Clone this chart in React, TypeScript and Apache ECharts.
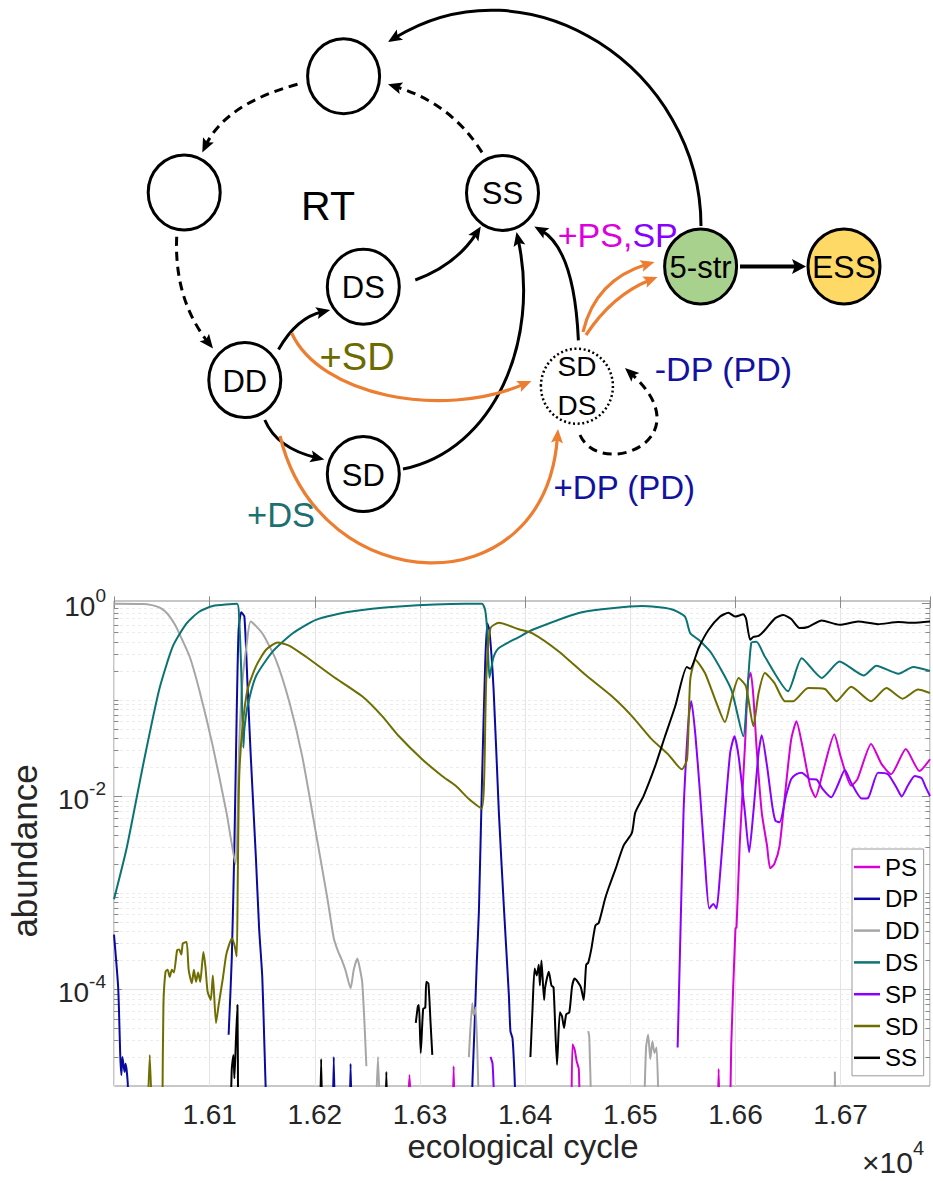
import React, { useEffect, useRef } from 'react';
import * as echarts from 'echarts';

// ---------- chart data: [ecological cycle, abundance]; null = break in line ----------
type Pt = [number, number] | null;

const SERIES_NAMES = ['PS', 'DP', 'DD', 'DS', 'SP', 'SD', 'SS'];
const SERIES_COLORS = ['#d600d6', '#0a0aa0', '#a6a6a6', '#0b7373', '#8a00ff', '#6e6e00', '#000000'];

const PS: Pt[] = [
  [16288, 5e-6], [16290, 1.3e-5], [16292, 5e-6], null,
  [16331, 5e-6], [16332, 1.6e-5], [16333, 5e-6], null,
  [16444, 5e-6], [16445, 2.7e-5], [16447, 2.4e-5], [16449, 1.8e-5], [16451, 1.5e-5], [16452, 5e-6], null,
  [16583, 5e-6], [16584, 1.5e-5], [16585, 5e-6], null,
  [16595, 5e-6], [16596, 2.7e-5], [16600, 4.3e-4], [16601, 4.4e-4], [16604, 3.1e-3], [16609, 0.033], [16612, 0.16],
  [16614.5, 0.19], [16617, 0.11], [16620, 0.033], [16625, 6.8e-3], [16630, 3.1e-3], [16633, 1.8e-3],
  [16637, 2.0e-3], [16642, 3.1e-3], [16648, 0.0129], [16653, 0.039], [16658, 0.06], [16663, 0.036],
  [16671, 0.0129], [16676, 9.8e-3], [16683, 0.0176], [16694, 0.044], [16700, 0.026], [16710, 0.0129],
  [16716, 0.0151], [16729, 0.035], [16739, 0.0216], [16748, 0.017], [16762, 0.031], [16775, 0.0183],
  [16785, 0.0243],
];

const DP: Pt[] = [
  [16009, 3.7e-4], [16013, 1.03e-4], [16015, 2e-5], [16016, 1.3e-5], [16017, 2e-5], [16019, 1.4e-5],
  [16020, 1.7e-5], [16022, 1.1e-5], [16023, 5e-6], null,
  [16118, 3.4e-5], [16121, 2.1e-4], [16123.5, 3.1e-3], [16125.7, 0.074], [16127.5, 0.53], [16130, 0.81],
  [16133, 0.73], [16136, 0.142], [16139, 0.027], [16144, 2.25e-3], [16147, 4.3e-4], [16150, 1.35e-4],
  [16152, 2.7e-5], [16154, 5e-6], null,
  [16217, 5e-6], [16218, 2e-5], [16219, 5e-6], null,
  [16233, 5e-6], [16234, 1.7e-5], [16235, 5e-6], null,
  [16349, 5e-6], [16350, 1.2e-5], [16352, 4.5e-5], [16354, 1.9e-4], [16356, 6.4e-4], [16359, 0.015],
  [16362, 0.24], [16364, 0.62], [16366, 0.53], [16370, 0.128], [16375, 6.8e-3], [16380, 6.4e-4],
  [16384.5, 8.8e-5], [16386, 3.7e-5], [16388, 3.1e-5], [16390, 1.2e-5], [16391, 5e-6],
];

const DD: Pt[] = [
  [16009, 0.99], [16036, 0.985], [16045, 0.96], [16052, 0.91], [16057, 0.84], [16062, 0.73], [16067, 0.6],
  [16071, 0.49], [16081, 0.28], [16090, 0.128], [16103, 0.033], [16116, 6.8e-3], [16124.5, 2.0e-3],
  [16128, 0.033], [16131, 0.15], [16135, 0.36], [16139, 0.65], [16150, 0.49], [16163, 0.26], [16176, 0.093],
  [16188, 0.026], [16201, 4.2e-3], [16212, 8.7e-4], [16218, 3.4e-4], [16222, 2.5e-4], [16225, 2.1e-4],
  [16229, 1.6e-4], [16234, 1.03e-4], [16237, 1.6e-4], [16240.5, 2.1e-4], [16243, 1.6e-4], [16245, 1.2e-4],
  [16247, 5e-5], [16249, 1.6e-5], null,
  [16258, 5e-6], [16260, 2e-5], [16262, 5e-6], null,
  [16346.5, 2e-5], [16349.7, 7.2e-5], [16351, 5.4e-5], [16353, 6.5e-5], [16356, 5e-6], null,
  [16460, 3.7e-5], [16461, 3.2e-5], [16463, 5e-6], null,
  [16513, 5e-6], [16515, 2.5e-5], [16517, 3.4e-5], [16519, 1.9e-5], [16521, 2.9e-5], [16523, 2.2e-5],
  [16525, 2.5e-5], [16527, 5e-6], null,
  [16694, 5e-6], [16694.5, 1.4e-5], [16695, 5e-6],
];

const DS: Pt[] = [
  [16009, 8.6e-4], [16021, 2.9e-3], [16036.5, 0.0207], [16052, 0.128], [16065, 0.36], [16078, 0.62],
  [16090, 0.82], [16103, 0.94], [16126, 0.99], [16128, 0.7], [16130, 0.2], [16132, 0.032], [16133, 0.05],
  [16136, 0.086], [16144, 0.176], [16160, 0.318], [16179, 0.49], [16201, 0.676], [16233, 0.82],
  [16280, 0.93], [16343, 0.99], [16359, 0.99], [16362, 0.85], [16364, 0.5], [16366, 0.17], [16368, 0.22],
  [16370, 0.28], [16375, 0.345], [16394, 0.448], [16407, 0.533], [16454, 0.81], [16511, 0.94],
  [16539, 0.87], [16552, 0.73], [16557, 0.49], [16565, 0.42], [16577, 0.306], [16596, 0.128],
  [16607.5, 0.042], [16611, 0.109], [16615, 0.388], [16620, 0.4], [16628, 0.28], [16650, 0.123],
  [16663, 0.27], [16682, 0.169], [16699, 0.25], [16722, 0.179], [16734, 0.226], [16755, 0.187],
  [16769, 0.22], [16785, 0.2],
];

const SP: Pt[] = [
  [16367, 2e-5], [16369, 1.7e-5], [16371, 5e-6], null,
  [16545, 2.5e-5], [16547.4, 2.9e-4], [16550.6, 6.8e-3], [16553.7, 0.033], [16556, 0.074], [16558, 0.097],
  [16562, 0.042], [16566.5, 0.0101], [16571, 2.1e-3], [16575, 6.9e-4], [16579, 7.7e-4], [16582, 6.9e-4],
  [16585, 1.4e-3], [16590, 6.8e-3], [16595, 0.0284], [16599, 0.042], [16603, 0.026], [16609, 6.8e-3],
  [16613, 2.64e-3], [16617, 6.8e-3], [16622, 0.0284], [16625, 0.043], [16630, 0.0207], [16635, 8e-3],
  [16638, 5.6e-3], [16642, 5.4e-3], [16648, 0.0101], [16653, 0.0151], [16658, 0.017], [16663, 0.0176],
  [16671, 0.0151], [16677, 0.015], [16683, 0.0119], [16691, 9.8e-3], [16697, 0.0129], [16704, 0.0188],
  [16710, 0.0139], [16720, 9.5e-3], [16726, 9.6e-3], [16735.6, 0.0176], [16745, 0.017], [16754, 0.0119],
  [16758, 0.01], [16764, 0.013], [16770.5, 0.0163], [16777, 0.0155], [16781, 0.0124], [16785, 0.0101],
];

const SD: Pt[] = [
  [16041, 5e-6], [16043, 2.1e-5], [16045, 5e-6], null,
  [16055, 5e-6], [16056, 6.9e-5], [16058, 1.53e-4], [16060, 1.6e-4], [16062, 1.35e-4], [16064, 1.6e-4],
  [16066, 1.5e-4], [16069, 2.55e-4], [16071, 2.6e-4], [16073, 2.3e-4], [16074.5, 3e-4], [16078, 3.1e-4],
  [16080, 1.6e-4], [16083, 1.16e-4], [16085, 1.6e-4], [16087, 1.2e-4], [16089, 1.5e-4], [16091, 1.2e-4],
  [16094, 2.45e-4], [16096, 1.7e-4], [16098, 9.5e-5], [16101, 7.8e-5], [16103, 1.4e-4], [16106, 4.5e-5],
  [16108.5, 6.9e-5], [16112.5, 1.3e-4], [16115.6, 2.26e-4], [16118, 2.8e-4], [16121, 3.4e-4],
  [16123.5, 2.9e-4], [16125.7, 2.2e-4], [16126.7, 1.4e-3], [16128, 0.0151], [16131, 0.0495],
  [16136, 0.128], [16144, 0.223], [16153.6, 0.331], [16164.6, 0.394], [16176, 0.364], [16191.6, 0.28],
  [16217, 0.176], [16245, 0.109], [16264, 0.068], [16280, 0.042], [16302, 0.0243], [16321, 0.0163],
  [16334, 0.0129], [16346.5, 9.4e-3], [16358.6, 7.5e-3], [16361, 0.0151], [16363, 0.162], [16367, 0.555],
  [16375, 0.63], [16394, 0.54], [16407, 0.49], [16432, 0.318], [16457, 0.183], [16482.5, 0.109],
  [16501.5, 0.068], [16520.5, 0.039], [16536, 0.0273], [16549, 0.0191], [16554, 0.0243], [16557, 0.162],
  [16562, 0.26], [16571, 0.19], [16580.7, 0.101], [16590, 0.059], [16596, 0.101], [16603, 0.169],
  [16610, 0.138], [16617, 0.0535], [16622, 0.118], [16628, 0.19], [16637, 0.15], [16647, 0.097],
  [16655, 0.097], [16669, 0.133], [16685, 0.13], [16696, 0.097], [16710, 0.137], [16729, 0.097],
  [16743.5, 0.133], [16759, 0.103], [16773.6, 0.128], [16785, 0.118],
];

const SS: Pt[] = [
  [16120, 5e-6], [16121, 1.5e-5], [16122.6, 2.1e-5], [16123.5, 1.2e-5], [16125, 3.1e-5], [16126.4, 6.9e-5],
  [16127, 5e-6], null,
  [16205, 5e-6], [16206, 1.9e-5], [16207, 5e-6], null,
  [16267, 5e-6], [16268, 1.4e-5], [16269, 5e-6], null,
  [16296, 4.5e-5], [16298, 6.7e-5], [16299, 6.9e-5], [16300.7, 2.2e-5], [16303, 6.3e-5], [16305, 6.5e-5],
  [16306, 1.2e-4], [16308, 1.15e-4], [16310, 4.6e-5], [16311.7, 2.1e-5], null,
  [16405, 2e-5], [16407, 6.3e-5], [16409, 1.65e-4], [16411, 1.4e-4], [16413, 1.8e-4], [16414, 1.1e-4],
  [16415.5, 2e-4], [16418, 7.8e-5], [16419, 1.05e-4], [16422.5, 1.53e-4], [16425, 1.1e-4], [16427, 1.05e-4],
  [16430.3, 1.66e-5], [16433, 5.8e-5], [16435, 5.3e-5], [16437, 4e-5], [16439, 5.5e-5], [16442, 5.8e-5],
  [16444.6, 1.07e-4], [16447, 1.3e-4], [16450, 1.2e-4], [16453, 1.05e-4], [16455.7, 7.8e-5],
  [16458, 1.8e-4], [16460, 1.9e-4], [16463, 2.65e-4], [16466.8, 4.6e-4], [16470, 4.9e-4], [16476, 8.7e-4],
  [16479, 1.1e-3], [16486, 1.78e-3], [16493.6, 3.1e-3], [16501.5, 4.2e-3], [16504.7, 6.8e-3],
  [16512.6, 0.0101], [16523.7, 0.0207], [16533, 0.042], [16542.7, 0.086], [16553.7, 0.22], [16557, 0.21],
  [16565, 0.345], [16574.3, 0.53], [16585.4, 0.73], [16593.3, 0.8], [16599.6, 0.73], [16607.5, 0.77],
  [16610, 0.7], [16614, 0.42], [16617, 0.45], [16622, 0.46], [16628, 0.53], [16637.6, 0.7],
  [16645.5, 0.76], [16653, 0.69], [16661, 0.555], [16669, 0.57], [16682, 0.665], [16699, 0.6],
  [16716.6, 0.65], [16735.6, 0.61], [16755, 0.64], [16769, 0.63], [16785, 0.65],
];

const SERIES_DATA: Pt[][] = [PS, DP, DD, DS, SP, SD, SS];

// axes
const X_MIN = 16009;
const X_MAX = 16785;
const X_STEP = 100;
const Y_MIN_EXP = -5;
const Y_MAX_EXP = 0.025;
const Y_LABEL_EXPS = [-4, -2, 0];
const Y_MINOR_DECADES = [-5, -4, -3, -2, -1];
const Y_MINOR_MULT = [2, 3, 4, 5, 6, 7, 8, 9];

const FONT = '"Liberation Sans", Arial, Helvetica, sans-serif';

// ---------- diagram helpers ----------
type P2 = [number, number];

function arrowHead(tip: P2, from: P2, color: string, L = 14, W = 12) {
  const dx = tip[0] - from[0];
  const dy = tip[1] - from[1];
  const len = Math.hypot(dx, dy) || 1;
  const ux = dx / len, uy = dy / len;
  const nx = -uy, ny = ux;
  const bx = tip[0] - ux * L, by = tip[1] - uy * L;
  return {
    type: 'polygon',
    z: 20,
    shape: {
      points: [
        [tip[0], tip[1]],
        [bx + (nx * W) / 2, by + (ny * W) / 2],
        [bx + ux * L * 0.2, by + uy * L * 0.2],
        [bx - (nx * W) / 2, by - (ny * W) / 2],
      ],
    },
    style: { fill: color, stroke: null },
  };
}

function curveArrow(p0: P2, c1: P2, c2: P2 | null, tip: P2, color: string, lw = 3, dash?: number[]) {
  const from = c2 || c1;
  const dx = tip[0] - from[0];
  const dy = tip[1] - from[1];
  const len = Math.hypot(dx, dy) || 1;
  const back = 8;
  const end: P2 = [tip[0] - (dx / len) * back, tip[1] - (dy / len) * back];
  const shape: any = { x1: p0[0], y1: p0[1], x2: end[0], y2: end[1], cpx1: c1[0], cpy1: c1[1] };
  if (c2) {
    shape.cpx2 = c2[0];
    shape.cpy2 = c2[1];
  }
  return [
    {
      type: 'bezierCurve',
      z: 19,
      shape,
      style: { stroke: color, lineWidth: lw, fill: null, lineDash: dash || null },
    },
    arrowHead(tip, from, color),
  ];
}

function node(cx: number, cy: number, fill = '#ffffff', dotted = false) {
  return {
    type: 'ellipse',
    z: 18,
    shape: { cx, cy, rx: 36, ry: 37.5 },
    style: dotted
      ? { fill, stroke: '#000', lineWidth: 2.5, lineDash: [2, 2.6] }
      : { fill, stroke: '#000', lineWidth: 3 },
  };
}

function label(x: number, y: number, text: string, size: number, color = '#000', align = 'center', glow = false) {
  const style: any = {
    text,
    fill: color,
    fontSize: size,
    fontFamily: FONT,
    align,
    textAlign: align,
    verticalAlign: 'middle',
    textVerticalAlign: 'middle',
  };
  if (glow) {
    style.shadowBlur = 3;
    style.shadowColor = color;
  }
  return { type: 'text', z: 21, x, y, style };
}

const BLACK = '#000000';
const ORANGE = '#ed7d31';
const DASH = [9, 6];

function buildDiagram() {
  const els: any[] = [];
  // arrows (under nodes)
  els.push(...curveArrow([701, 226], [701, 70], [530, -45], [388, 42], BLACK, 3));
  els.push(...curveArrow([297.5, 84.3], [226, 103.6], null, [202.3, 152.4], BLACK, 3, DASH));
  els.push(...curveArrow([482, 152.4], [451.6, 103.6], null, [388, 84.3], BLACK, 3, DASH));
  els.push(...curveArrow([176.7, 236.8], [174.1, 299.4], null, [213, 348.5], BLACK, 3, DASH));
  els.push(...curveArrow([278.5, 349.6], [296.6, 317.6], null, [330.2, 310], BLACK, 3));
  els.push(...curveArrow([415.3, 280], [456.4, 264.8], null, [480.8, 226.4], BLACK, 3));
  els.push(...curveArrow([403, 469], [495, 450], [540, 340], [516.5, 232], BLACK, 3));
  els.push(...curveArrow([264.8, 420], [276.7, 448.3], null, [324.3, 459.5], BLACK, 3));
  els.push(...curveArrow([578.4, 340.4], [574.3, 249.4], null, [534.3, 226.4], BLACK, 3));
  els.push(...curveArrow([583, 332], [595.3, 280], null, [654.5, 262], ORANGE, 3.2));
  els.push(...curveArrow([586, 335], [612.3, 295], null, [657.5, 277], ORANGE, 3.2));
  els.push(...curveArrow([291.6, 333], [320, 395], [440, 420], [531.4, 381], ORANGE, 3.2));
  els.push(...curveArrow([280, 436], [320, 600], [545, 610], [558, 429], ORANGE, 3.2));
  els.push(...curveArrow([580, 435], [600, 480], [705, 440], [625, 368], BLACK, 3, DASH));
  els.push({
    type: 'line',
    z: 19,
    shape: { x1: 740, y1: 266.4, x2: 795, y2: 266.4 },
    style: { stroke: BLACK, lineWidth: 4 },
  });
  els.push(arrowHead([806, 266.4], [740, 266.4], BLACK, 14, 15));

  // nodes
  els.push(node(343.6, 76.2));
  els.push(node(184.2, 192.4));
  els.push(node(502.5, 192.9));
  els.push(node(363.3, 286.7));
  els.push(node(244.8, 380.1));
  els.push(node(363.3, 474.1));
  els.push(node(576.9, 386.2, '#ffffff', true));
  els.push(node(700.6, 266.4, '#a9d18e'));
  els.push(node(844, 266.4, '#ffd966'));

  // texts
  els.push(label(328, 206, 'RT', 41));
  els.push(label(502.5, 193, 'SS', 31));
  els.push(label(363.3, 287, 'DS', 31));
  els.push(label(244.8, 381, 'DD', 31));
  els.push(label(363.3, 475, 'SD', 31));
  els.push(label(577, 366, 'SD', 28));
  els.push(label(577, 405, 'DS', 28));
  els.push(label(700.6, 267, '5-str', 31));
  els.push(label(844, 267, 'ESS', 32));
  els.push(label(557.7, 235, '+PS,', 34, '#dd00dd', 'left'));
  els.push(label(632.4, 235, 'SP', 34, '#8800ff', 'left'));
  els.push(label(319.6, 357, '+SD', 38, '#6b6b00', 'left', true));
  els.push(label(654.8, 369, '-DP (PD)', 34, '#12129e', 'left', true));
  els.push(label(553.6, 487, '+DP (PD)', 33, '#12129e', 'left', true));
  els.push(label(247, 515, '+DS', 34.5, '#1c7070', 'left', true));

  // axis names for the chart
  els.push({
    type: 'text',
    z: 21,
    x: 24.5,
    y: 851,
    rotation: Math.PI / 2,
    style: {
      text: 'abundance', fill: '#262626', fontSize: 35, fontFamily: FONT,
      align: 'center', textAlign: 'center', verticalAlign: 'middle', textVerticalAlign: 'middle',
    },
  });
  els.push(label(523, 1146, 'ecological cycle', 33, '#262626'));
  els.push(label(862, 1162, '\u00d710', 30, '#262626', 'left'));
  els.push(label(913, 1148, '4', 20, '#262626', 'left'));
  return els;
}

function toSeriesData(pts: Pt[]) {
  const out: any[] = [];
  let lastX = X_MIN;
  for (const p of pts) {
    if (p === null) {
      out.push([lastX, '-']);
    } else {
      lastX = p[0];
      out.push([p[0], Math.log10(p[1])]);
    }
  }
  return out;
}

function buildTicks() {
  const ticks: any[] = [];
  for (const e of Y_LABEL_EXPS) ticks.push([X_MIN, e, 1]);
  for (const d of Y_MINOR_DECADES) {
    if (!Y_LABEL_EXPS.includes(d) && d > Y_MIN_EXP) ticks.push([X_MIN, d, 0]);
    for (const k of Y_MINOR_MULT) {
      const v = d + Math.log10(k);
      if (v < Y_MAX_EXP) ticks.push([X_MIN, v, 0]);
    }
  }
  return ticks;
}

export default function App() {
  const ref = useRef<HTMLDivElement>(null);
  useEffect(() => {
    if (!ref.current) return;
    const chart = echarts.init(ref.current, undefined, { renderer: 'svg' });
    const lineSeries = SERIES_NAMES.map((name, i) => ({
      name,
      type: 'line',
      data: toSeriesData(SERIES_DATA[i]),
      symbol: 'none',
      showSymbol: false,
      connectNulls: false,
      smooth: 0.2,
      clip: true,
      silent: true,
      z: 3,
      lineStyle: { color: SERIES_COLORS[i], width: 2 },
      itemStyle: { color: SERIES_COLORS[i] },
      emphasis: { disabled: true },
    }));
    const tickSeries = {
      name: '_grid',
      type: 'custom',
      silent: true,
      z: 1,
      clip: false,
      data: buildTicks(),
      encode: { x: 0, y: 1 },
      renderItem: (params: any, api: any) => {
        const v = api.value(1);
        const major = api.value(2) === 1;
        const p = api.coord([X_MIN, v]);
        const cs = params.coordSys;
        const xl = cs.x;
        const xr = cs.x + cs.width;
        const y = Math.round(p[1]) + 0.5;
        const len = major ? 8 : 4.5;
        const children: any[] = [];
        if (Math.abs(v) > 1e-6) {
          children.push({
            type: 'line',
            shape: { x1: xl, y1: y, x2: xr, y2: y },
            style: { stroke: major ? '#e2e2e2' : '#ececec', lineWidth: 1, lineDash: major ? null : [3, 3] },
          });
        }
        children.push({ type: 'line', shape: { x1: xl, y1: y, x2: xl + len, y2: y }, style: { stroke: '#8a8a8a', lineWidth: 1 } });
        children.push({ type: 'line', shape: { x1: xr - len, y1: y, x2: xr, y2: y }, style: { stroke: '#8a8a8a', lineWidth: 1 } });
        return { type: 'group', children };
      },
    };
    const xCommon = {
      type: 'value',
      min: X_MIN,
      max: X_MAX,
      splitNumber: 8,
      minInterval: X_STEP,
      maxInterval: X_STEP,
    };
    chart.setOption({
      animation: false,
      backgroundColor: '#ffffff',
      textStyle: { fontFamily: FONT },
      grid: {
        left: 114, top: 601, width: 818, height: 485,
        show: true, borderColor: '#8f8f8f', borderWidth: 1, backgroundColor: 'transparent',
        containLabel: false,
      },
      xAxis: [
        {
          ...xCommon,
          position: 'bottom',
          axisLine: { show: false },
          axisTick: { show: true, inside: true, length: 7, lineStyle: { color: '#8a8a8a' } },
          splitLine: { show: true, lineStyle: { color: '#e4e4e4', width: 1 } },
          axisLabel: {
            fontSize: 28, color: '#262626', margin: 14, fontFamily: FONT,
            formatter: (v: number) => (Math.abs(v / X_STEP - Math.round(v / X_STEP)) < 1e-6 ? (v / 1e4).toFixed(2) : ''),
          },
        },
        {
          ...xCommon,
          position: 'top',
          axisLine: { show: false },
          axisTick: { show: true, inside: true, length: 7, lineStyle: { color: '#8a8a8a' } },
          splitLine: { show: false },
          axisLabel: { show: false },
        },
      ],
      yAxis: {
        type: 'value',
        min: Y_MIN_EXP,
        max: Y_MAX_EXP,
        interval: 1,
        axisLine: { show: false },
        axisTick: { show: false },
        splitLine: { show: false },
        axisLabel: {
          margin: 8,
          formatter: (v: number) => {
            const r = Math.round(v);
            if (Math.abs(v - r) > 1e-6 || !Y_LABEL_EXPS.includes(r)) return '';
            return `{b|10}{s|${r}}`;
          },
          rich: {
            b: { fontSize: 28, color: '#262626', fontFamily: FONT, lineHeight: 34, verticalAlign: 'bottom' },
            s: { fontSize: 19, color: '#262626', fontFamily: FONT, lineHeight: 34, verticalAlign: 'top' },
          },
        },
      },
      legend: {
        data: SERIES_NAMES,
        orient: 'vertical',
        left: 852,
        top: 849,
        icon: 'rect',
        itemWidth: 26,
        itemHeight: 2.5,
        itemGap: 7.8,
        padding: [6, 4, 6, 2],
        backgroundColor: '#ffffff',
        borderColor: '#9a9a9a',
        borderWidth: 1,
        borderRadius: 0,
        selectedMode: false,
        textStyle: { fontSize: 24, color: '#000', fontFamily: FONT, lineHeight: 24 },
      },
      series: [tickSeries, ...lineSeries],
      graphic: { elements: buildDiagram() },
    });
    return () => chart.dispose();
  }, []);
  return <div ref={ref} style={{ position: 'absolute', left: 0, top: 0, width: 933, height: 1181 }} />;
}
